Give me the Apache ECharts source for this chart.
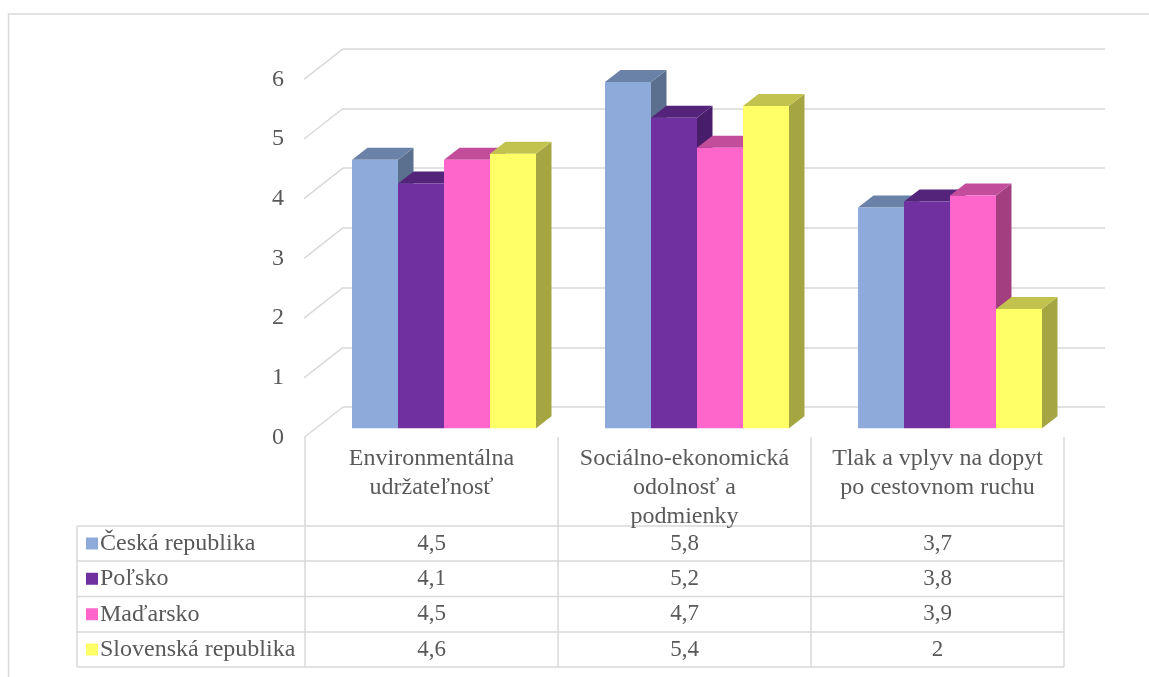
<!DOCTYPE html>
<html>
<head>
<meta charset="utf-8">
<title>Hodnotenie krajín V4</title>
<script src="https://cdn.jsdelivr.net/npm/echarts@6/dist/echarts.min.js"></script>
<style>
  html, body { margin: 0; padding: 0; background: #ffffff; }
  #chart { width: 1149px; height: 677px; }
</style>
</head>
<body>
<div id="chart"></div>
<script>
// Categories (shown in the data table header) and one value array per country
const categories = [
  'Environmentálna\nudržateľnosť',
  'Sociálno-ekonomická\nodolnosť a\npodmienky',
  'Tlak a vplyv na dopyt\npo cestovnom ruchu'
];
const countries = ['Česká republika', 'Poľsko', 'Maďarsko', 'Slovenská republika'];
const ceskaRepublika = [4.5, 5.8, 3.7];
const polsko = [4.1, 5.2, 3.8];
const madarsko = [4.5, 4.7, 3.9];
const slovenskaRepublika = [4.6, 5.4, 2];
const valueTicks = [0, 1, 2, 3, 4, 5, 6];

const seriesValues = [ceskaRepublika, polsko, madarsko, slovenskaRepublika];

// Face colours of the 3D boxes: front, top, side
const palette = [
  { front: '#8eaadb', top: '#6b82a8', side: '#5b6f8f' },
  { front: '#7030a0', top: '#54247a', side: '#481d69' },
  { front: '#ff66cc', top: '#c24e9b', side: '#a33f80' },
  { front: '#ffff66', top: '#c2c24e', side: '#a5a541' }
];

const TEXT = '#595959';
const LINE = '#d9d9d9';
const FONT = "'Liberation Serif', 'Times New Roman', serif";
const LABEL_SIZE = 24;
const NUMBER_SIZE = 23;

// Perspective: depth of one bar and depth of the whole floor, in pixels
const BAR_DX = 15.5, BAR_DY = 12;
const WALL_DX = 39, WALL_DY = 30.5;
const PLOT_H = 358.2;
const BAND = 253;

// Data table layout
const tableLeft = 77;
const colX = [305, 305 + BAND, 305 + 2 * BAND, 305 + 3 * BAND];
const headerTop = 437;
const rowY = [526, 561, 596.5, 632, 667];

function fmt(v) {
  return String(v).replace('.', ',');
}

function barRenderer(k) {
  return function (params, api) {
    const ci = api.value(0);
    const v = api.value(1);
    const base = api.coord([ci, 0]);
    const top = api.coord([ci, v]);
    const band = api.size([1, 0])[0];
    const bw = band * 46 / 253;
    const x0 = base[0] - 2 * bw + k * bw;
    const x1 = x0 + bw;
    const yt = top[1];
    const yb = base[1];
    const c = palette[k];
    return {
      type: 'group',
      children: [
        {
          type: 'polygon',
          shape: { points: [[x1, yt], [x1 + BAR_DX, yt - BAR_DY], [x1 + BAR_DX, yb - BAR_DY], [x1, yb]] },
          style: { fill: c.side }
        },
        {
          type: 'polygon',
          shape: { points: [[x0, yt], [x1, yt], [x1 + BAR_DX, yt - BAR_DY], [x0 + BAR_DX, yt - BAR_DY]] },
          style: { fill: c.top }
        },
        {
          type: 'rect',
          shape: { x: x0, y: yt, width: bw, height: yb - yt },
          style: { fill: c.front }
        }
      ]
    };
  };
}

const series = [];

// Diagonal gridlines on the left wall
series.push({
  type: 'custom',
  xAxisIndex: 2,
  yAxisIndex: 2,
  silent: true,
  z: 1,
  data: valueTicks.map(function (t) { return [0, t]; }),
  renderItem: function (params, api) {
    const p = api.coord([0, api.value(1)]);
    return {
      type: 'line',
      shape: { x1: p[0], y1: p[1], x2: p[0] + WALL_DX, y2: p[1] - WALL_DY },
      style: { stroke: LINE, lineWidth: 1.5 }
    };
  }
});

seriesValues.forEach(function (vals, k) {
  series.push({
    type: 'custom',
    name: countries[k],
    xAxisIndex: 0,
    yAxisIndex: 0,
    z: 3,
    data: vals.map(function (v, i) { return [i, v]; }),
    renderItem: barRenderer(k)
  });
});

function textStyle(size, extra) {
  return Object.assign({
    fill: TEXT,
    font: size + 'px ' + FONT
  }, extra);
}

// Outer frame and the data table below the plot
const graphics = [];
graphics.push({
  type: 'rect',
  shape: { x: 8.5, y: 14, width: 1300, height: 800 },
  style: { fill: 'none', stroke: LINE, lineWidth: 1.5 },
  silent: true
});
colX.forEach(function (x) {
  graphics.push({
    type: 'line',
    shape: { x1: x, y1: headerTop, x2: x, y2: rowY[rowY.length - 1] },
    style: { stroke: LINE, lineWidth: 1.5 }
  });
});
graphics.push({
  type: 'line',
  shape: { x1: tableLeft, y1: rowY[0], x2: tableLeft, y2: rowY[rowY.length - 1] },
  style: { stroke: LINE, lineWidth: 1.5 }
});
rowY.forEach(function (y) {
  graphics.push({
    type: 'line',
    shape: { x1: tableLeft, y1: y, x2: colX[colX.length - 1], y2: y },
    style: { stroke: LINE, lineWidth: 1.5 }
  });
});
categories.forEach(function (cat, i) {
  graphics.push({
    type: 'text',
    style: textStyle(LABEL_SIZE, {
      text: cat,
      x: (colX[i] + colX[i + 1]) / 2,
      y: 444,
      align: 'center',
      verticalAlign: 'top',
      lineHeight: 29
    })
  });
});
countries.forEach(function (name, r) {
  const cy = (rowY[r] + rowY[r + 1]) / 2;
  graphics.push({
    type: 'rect',
    shape: { x: 86, y: cy - 6, width: 12, height: 12 },
    style: { fill: palette[r].front }
  });
  graphics.push({
    type: 'text',
    style: textStyle(LABEL_SIZE, { text: name, x: 100, y: cy, align: 'left', verticalAlign: 'middle' })
  });
  seriesValues[r].forEach(function (v, i) {
    graphics.push({
      type: 'text',
      style: textStyle(NUMBER_SIZE, {
        text: fmt(v), x: (colX[i] + colX[i + 1]) / 2, y: cy,
        align: 'center', verticalAlign: 'middle'
      })
    });
  });
});

const hiddenValueAxis = {
  type: 'value', min: 0, max: 6, interval: 1,
  axisLine: { show: false }, axisTick: { show: false },
  axisLabel: { show: false }, splitLine: { show: false }
};

const option = {
  animation: false,
  backgroundColor: '#ffffff',
  grid: [
    { left: 317.5, top: 428.3 - PLOT_H, width: 3 * BAND, height: PLOT_H },
    { left: 343, top: 407 - PLOT_H, width: 762, height: PLOT_H },
    { left: 304, top: 437.5 - PLOT_H, width: 3 * BAND, height: PLOT_H }
  ],
  xAxis: [
    {
      gridIndex: 0, type: 'category', data: categories, boundaryGap: true,
      axisLine: { show: false }, axisTick: { show: false }, axisLabel: { show: false }
    },
    { gridIndex: 1, type: 'value', min: 0, max: 1, show: false },
    { gridIndex: 2, type: 'value', min: 0, max: 1, show: false }
  ],
  yAxis: [
    Object.assign({ gridIndex: 0 }, hiddenValueAxis),
    Object.assign({ gridIndex: 1 }, hiddenValueAxis, {
      splitLine: { show: true, lineStyle: { color: LINE, width: 1.5 } }
    }),
    Object.assign({ gridIndex: 2 }, hiddenValueAxis, {
      axisLabel: {
        show: true, margin: 20, color: TEXT,
        fontFamily: FONT, fontSize: LABEL_SIZE,
        formatter: function (v) { return fmt(v); }
      }
    })
  ],
  graphic: graphics,
  series: series
};

const chart = echarts.init(document.getElementById('chart'), null, { renderer: 'canvas' });
chart.setOption(option);
</script>
</body>
</html>
